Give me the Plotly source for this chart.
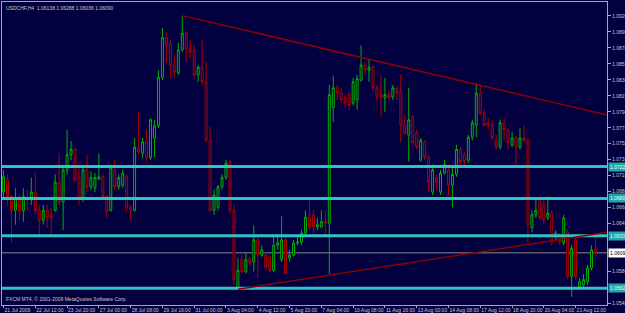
import plotly.graph_objects as go

# ---------------- data (USDCHF H4) ----------------
bar_index = list(range(150))

open_ = [
    1.0689, 1.0705, 1.0683, 1.0665, 1.0681, 1.0665, 1.0681, 1.0679, 1.0688, 1.0665,
    1.0652, 1.0665, 1.0659, 1.0665, 1.0701, 1.0676, 1.0718, 1.0738, 1.0745, 1.0708,
    1.0681, 1.0718, 1.0696, 1.0694, 1.0706, 1.0709, 1.0683, 1.0665, 1.0718, 1.0696,
    1.0698, 1.0709, 1.0669, 1.0665, 1.0748, 1.0740, 1.0755, 1.0734, 1.0760, 1.0776,
    1.0840, 1.0892, 1.0885, 1.0856, 1.0846, 1.0876, 1.0898, 1.0878, 1.0876, 1.0843,
    1.0853, 1.0834, 1.0757, 1.0665, 1.0669, 1.0696, 1.0708, 1.0729, 1.0665, 1.0563,
    1.0600, 1.0584, 1.0601, 1.0597, 1.0626, 1.0606, 1.0606, 1.0604, 1.0586, 1.0619,
    1.0600, 1.0626, 1.0602, 1.0606, 1.0622, 1.0623, 1.0635, 1.0656, 1.0659, 1.0643,
    1.0643, 1.0650, 1.0648, 1.0800, 1.0826, 1.0819, 1.0813, 1.0817, 1.0806, 1.0810,
    1.0836, 1.0856, 1.0849, 1.0853, 1.0826, 1.0817, 1.0813, 1.0817, 1.0814, 1.0825,
    1.0821, 1.0777, 1.0764, 1.0788, 1.0767, 1.0731, 1.0755, 1.0735, 1.0689, 1.0708,
    1.0689, 1.0714, 1.0718, 1.0698, 1.0712, 1.0745, 1.0738, 1.0731, 1.0761, 1.0777,
    1.0819, 1.0793, 1.0780, 1.0777, 1.0757, 1.0748, 1.0780, 1.0771, 1.0751, 1.0760,
    1.0748, 1.0760, 1.0757, 1.0642, 1.0659, 1.0679, 1.0672, 1.0655, 1.0661, 1.0630,
    1.0630, 1.0622, 1.0636, 1.0578, 1.0626, 1.0564, 1.0567, 1.0571, 1.0589, 1.06138,
]

high = [
    1.0718, 1.0712, 1.0685, 1.0694, 1.0685, 1.0694, 1.0692, 1.0708, 1.0714, 1.0672,
    1.0672, 1.0672, 1.0668, 1.0712, 1.0740, 1.0725, 1.0771, 1.0756, 1.0747, 1.0725,
    1.0721, 1.0738, 1.0716, 1.0714, 1.0740, 1.0712, 1.0685, 1.0725, 1.0731, 1.0712,
    1.0718, 1.0712, 1.0672, 1.0760, 1.0794, 1.0760, 1.0771, 1.0786, 1.0784, 1.0849,
    1.0905, 1.0899, 1.0889, 1.0869, 1.0885, 1.0920, 1.0901, 1.0889, 1.0882, 1.0856,
    1.0889, 1.0860, 1.0775, 1.0692, 1.0698, 1.0712, 1.0731, 1.0731, 1.0672, 1.0602,
    1.0606, 1.0610, 1.0604, 1.0645, 1.0629, 1.0619, 1.0610, 1.0606, 1.0630, 1.0633,
    1.0657, 1.0629, 1.0613, 1.0626, 1.0633, 1.0639, 1.0665, 1.0679, 1.0665, 1.0655,
    1.0665, 1.0665, 1.0830, 1.0842, 1.0830, 1.0826, 1.0817, 1.0821, 1.0839, 1.0843,
    1.0882, 1.0860, 1.0863, 1.0856, 1.0830, 1.0843, 1.0839, 1.0823, 1.0830, 1.0828,
    1.0844, 1.0790, 1.0826, 1.0790, 1.0771, 1.0760, 1.0757, 1.0738, 1.0725, 1.0712,
    1.0718, 1.0731, 1.0725, 1.0721, 1.0751, 1.0748, 1.0742, 1.0764, 1.0784, 1.0832,
    1.0830, 1.0797, 1.0786, 1.0784, 1.0764, 1.0784, 1.0786, 1.0773, 1.0768, 1.0763,
    1.0773, 1.0777, 1.0760, 1.0665, 1.0681, 1.0681, 1.0679, 1.0683, 1.0665, 1.0639,
    1.0635, 1.0659, 1.0639, 1.0619, 1.0629, 1.0576, 1.0581, 1.0593, 1.0619, 1.06288,
]

low = [
    1.0679, 1.0672, 1.0622, 1.0646, 1.0652, 1.0650, 1.0665, 1.0672, 1.0659, 1.0629,
    1.0646, 1.0642, 1.0631, 1.0663, 1.0672, 1.0639, 1.0712, 1.0731, 1.0701, 1.0672,
    1.0676, 1.0689, 1.0692, 1.0689, 1.0705, 1.0679, 1.0655, 1.0663, 1.0692, 1.0692,
    1.0694, 1.0663, 1.0652, 1.0663, 1.0738, 1.0734, 1.0729, 1.0731, 1.0735, 1.0773,
    1.0836, 1.0859, 1.0839, 1.0839, 1.0843, 1.0873, 1.0860, 1.0865, 1.0840, 1.0834,
    1.0830, 1.0755, 1.0663, 1.0659, 1.0665, 1.0692, 1.0705, 1.0661, 1.0567, 1.0560,
    1.0581, 1.0582, 1.0593, 1.0584, 1.0576, 1.0604, 1.0586, 1.0584, 1.0584, 1.0613,
    1.0597, 1.0581, 1.0597, 1.0604, 1.0619, 1.0619, 1.0633, 1.0639, 1.0635, 1.0639,
    1.0642, 1.0633, 1.0581, 1.0781, 1.0810, 1.0806, 1.0800, 1.0797, 1.0803, 1.0797,
    1.0834, 1.0843, 1.0834, 1.0823, 1.0810, 1.0788, 1.0794, 1.0810, 1.0810, 1.0810,
    1.0754, 1.0764, 1.0729, 1.0751, 1.0745, 1.0729, 1.0731, 1.0689, 1.0685, 1.0692,
    1.0685, 1.0712, 1.0685, 1.0669, 1.0709, 1.0725, 1.0725, 1.0727, 1.0757, 1.0761,
    1.0790, 1.0775, 1.0771, 1.0757, 1.0745, 1.0745, 1.0757, 1.0745, 1.0748, 1.0725,
    1.0745, 1.0755, 1.0622, 1.0636, 1.0655, 1.0652, 1.0646, 1.0652, 1.0619, 1.0626,
    1.0619, 1.0619, 1.0574, 1.0551, 1.0574, 1.0560, 1.0563, 1.0567, 1.0586, 1.06036,
]

close = [
    1.0709, 1.0683, 1.0665, 1.0681, 1.0663, 1.0683, 1.0679, 1.0689, 1.0665, 1.0652,
    1.0665, 1.0655, 1.0655, 1.0702, 1.0676, 1.0718, 1.0738, 1.0745, 1.0705, 1.0681,
    1.0718, 1.0696, 1.0708, 1.0708, 1.0709, 1.0683, 1.0663, 1.0721, 1.0696, 1.0708,
    1.0714, 1.0669, 1.0665, 1.0748, 1.0742, 1.0755, 1.0734, 1.0784, 1.0776, 1.0840,
    1.0892, 1.0882, 1.0856, 1.0847, 1.0876, 1.0898, 1.0878, 1.0873, 1.0843, 1.0853,
    1.0834, 1.0757, 1.0665, 1.0685, 1.0696, 1.0708, 1.0727, 1.0665, 1.0574, 1.0586,
    1.0584, 1.0600, 1.0596, 1.0626, 1.0606, 1.0613, 1.0590, 1.0586, 1.0619, 1.0622,
    1.0626, 1.0582, 1.0606, 1.0622, 1.0623, 1.0635, 1.0656, 1.0643, 1.0643, 1.0646,
    1.0650, 1.0648, 1.0817, 1.0826, 1.0819, 1.0810, 1.0806, 1.0803, 1.0834, 1.0838,
    1.0856, 1.0849, 1.0853, 1.0826, 1.0814, 1.0813, 1.0817, 1.0813, 1.0826, 1.0819,
    1.0777, 1.0767, 1.0784, 1.0754, 1.0748, 1.0757, 1.0735, 1.0702, 1.0718, 1.0702,
    1.0714, 1.0725, 1.0698, 1.0712, 1.0745, 1.0729, 1.0729, 1.0761, 1.0780, 1.0819,
    1.0793, 1.0777, 1.0777, 1.0760, 1.0748, 1.0780, 1.0771, 1.0754, 1.0760, 1.0748,
    1.0760, 1.0757, 1.0646, 1.0659, 1.0665, 1.0655, 1.0652, 1.0661, 1.0623, 1.0635,
    1.0623, 1.0655, 1.0578, 1.0615, 1.0578, 1.0571, 1.0574, 1.0589, 1.0613, 1.06090,
]

time_label_bars = [0, 8, 16, 24, 32, 40, 48, 56, 64, 72, 80, 88, 96, 104, 112, 120, 128, 136, 144]
time_labels = ["21 Jul 2009", "22 Jul 12:00", "23 Jul 20:00", "27 Jul 00:00", "28 Jul 08:00",
               "29 Jul 16:00", "31 Jul 00:00", "3 Aug 04:00", "4 Aug 12:00", "5 Aug 20:00",
               "7 Aug 04:00", "10 Aug 08:00", "11 Aug 16:00", "13 Aug 00:00", "14 Aug 08:00",
               "17 Aug 12:00", "18 Aug 20:00", "20 Aug 04:00", "21 Aug 12:00"]

# price scale labels that are not hidden behind the level/bid boxes
price_ticks = [1.09205, 1.08995, 1.08785, 1.08575, 1.08365, 1.08155, 1.07945, 1.07735,
               1.07525, 1.07315, 1.07105, 1.06895, 1.06685, 1.06475, 1.05845, 1.05425]

levels = [1.07225, 1.06805, 1.06315, 1.05625]
bid_price = 1.06090

upper_trend_bars = [45, 153]
upper_trend_prices = [1.0921, 1.0789]
lower_trend_bars = [59, 153]
lower_trend_prices = [1.0561, 1.0637]

title_text = "USDCHF,H4  1.06138 1.06288 1.06036 1.06090"
footer_text = "FXCM MT4, \u00a9 2001-2009 MetaQuotes Software Corp."

# ---------------- styling ----------------
BG = "#03003f"
UP = "#00b000"
DOWN = "#b00000"
FRAME = "#a8a8a8"
TXT = "#c8c8c8"
CYAN = "#2fc3c3"
FONT = "Liberation Sans, DejaVu Sans, sans-serif"
FS = 5

fig = go.Figure()
fig.add_trace(go.Candlestick(
    x=bar_index, open=open_, high=high, low=low, close=close,
    increasing=dict(line=dict(color=UP, width=1), fillcolor=BG),
    decreasing=dict(line=dict(color=DOWN, width=1), fillcolor=BG),
    whiskerwidth=0, showlegend=False, hoverinfo="skip",
))

shapes = []
for lv in levels:
    shapes.append(dict(type="line", xref="paper", x0=0, x1=1, yref="y", y0=lv, y1=lv,
                       line=dict(color=CYAN, width=3), layer="above"))
shapes.append(dict(type="line", xref="paper", x0=0, x1=1, yref="y", y0=bid_price, y1=bid_price,
                   line=dict(color="#8a8a8a", width=1), layer="below"))
shapes.append(dict(type="line", xref="x", yref="y",
                   x0=upper_trend_bars[0], x1=upper_trend_bars[1],
                   y0=upper_trend_prices[0], y1=upper_trend_prices[1],
                   line=dict(color="#8c0000", width=1.5)))
shapes.append(dict(type="line", xref="x", yref="y",
                   x0=lower_trend_bars[0], x1=lower_trend_bars[1],
                   y0=lower_trend_prices[0], y1=lower_trend_prices[1],
                   line=dict(color="#8c0000", width=1.5)))

annotations = [
    dict(text=title_text, xref="paper", yref="paper", x=0, y=1, xanchor="left", yanchor="top",
         xshift=2, yshift=-1, showarrow=False, font=dict(family=FONT, size=FS, color=TXT)),
    dict(text=footer_text, xref="paper", yref="paper", x=0, y=0, xanchor="left", yanchor="bottom",
         xshift=2, yshift=1, showarrow=False, font=dict(family=FONT, size=FS, color=TXT)),
]
for lv in levels:
    annotations.append(dict(text=f"{lv:.5f}", xref="paper", yref="y", x=1, y=lv,
                            xanchor="left", yanchor="middle", xshift=1, showarrow=False,
                            bgcolor="#1fa8a8", borderpad=1,
                            font=dict(family=FONT, size=FS, color="#e8ffff")))
annotations.append(dict(text=f"{bid_price:.5f}", xref="paper", yref="y", x=1, y=bid_price,
                        xanchor="left", yanchor="middle", xshift=1, showarrow=False,
                        bgcolor="#ffffff", borderpad=1,
                        font=dict(family=FONT, size=FS, color="#000000")))

fig.update_layout(
    width=625, height=313,
    margin=dict(l=2, r=18, t=2, b=8, pad=0),
    paper_bgcolor=BG, plot_bgcolor=BG,
    font=dict(family=FONT, size=FS, color=TXT),
    showlegend=False,
    shapes=shapes,
    annotations=annotations,
    xaxis=dict(
        range=[-0.38, 151.9], rangeslider=dict(visible=False), automargin=False,
        showgrid=False, zeroline=False,
        tickmode="array", tickvals=time_label_bars, ticktext=time_labels,
        tickangle=0,
        ticks="outside", ticklen=2, tickcolor=FRAME,
        ticklabelposition="outside right",
        tickfont=dict(family=FONT, size=FS, color=TXT),
        showline=True, linecolor=FRAME, linewidth=1, mirror=True,
    ),
    yaxis=dict(
        side="right", range=[1.05404, 1.09389], automargin=False,
        showgrid=False, zeroline=False,
        tickmode="array", tickvals=price_ticks, ticktext=[f"{v:.5f}" for v in price_ticks],
        ticks="outside", ticklen=3, tickcolor=FRAME,
        tickfont=dict(family=FONT, size=FS, color=TXT),
        showline=True, linecolor=FRAME, linewidth=1, mirror=True,
    ),
)

fig.write_html("out.html", config={"displayModeBar": False})
